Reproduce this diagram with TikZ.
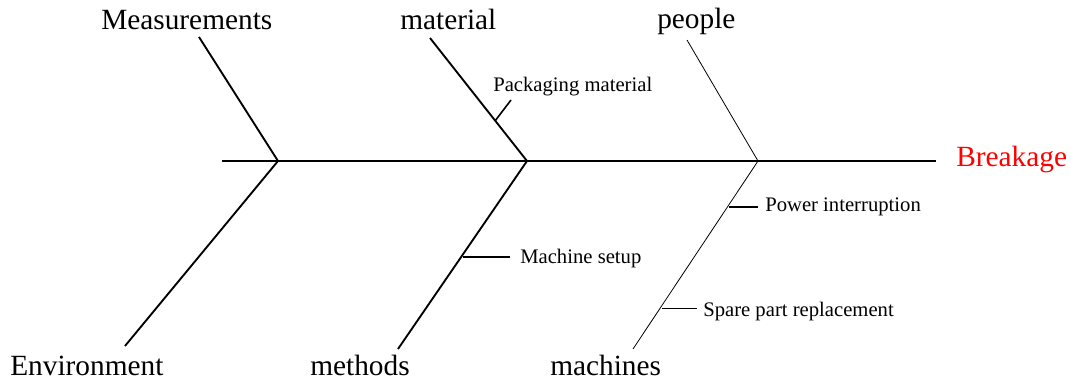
\documentclass[tikz,border=0pt]{standalone}
\usepackage{fontspec}
\setmainfont{Liberation Serif}
\usetikzlibrary{positioning}

\begin{document}
\begin{tikzpicture}[x=0.75pt, y=-0.75pt,
    cause/.style={inner sep=0pt, anchor=base west, font=\fontsize{22}{26}\selectfont},
    detail/.style={inner sep=0pt, anchor=base west, font=\fontsize{15.5}{19}\selectfont},
    effect/.style={cause, text=red},
    bone/.style={line width=1.4pt},
    thinbone/.style={line width=0.6pt},
    twig/.style={line width=1.2pt}
  ]
    \useasboundingbox (0,0) rectangle (1071,381);

    % cause labels
    \node[cause] (meas) at (101,30) {Measurements};
    \node[cause] (mat) at (400,30) {material};
    \node[cause] (ppl) at (657,29) {people};
    \node[cause] (env) at (10,375) {Environment};
    \node[cause] (meth) at (310,375) {methods};
    \node[cause] (mach) at (550,375) {machines};
    \node[effect] (brk) at (956,167) {Breakage};

    % sub causes
    \node[detail] (pack) at (493,92) {Packaging material};
    \node[detail] (setup) at (520,263) {Machine setup};
    \node[detail] (power) at (765,212) {Power interruption};
    \node[detail] (spare) at (703,316) {Spare part replacement};

    % spine
    \coordinate (tail) at (222,161);
    \coordinate (j1) at (278,161);
    \coordinate (j2) at (527,161);
    \coordinate (j3) at (758,161);
    \coordinate (head) at (936,161);
    \draw[bone] (tail) -- (j1) -- (j2) -- (j3) -- (head);

    % bones
    \coordinate (measend) at (199,37);
    \coordinate (envend) at (125,346);
    \coordinate (matend) at (430,38);
    \coordinate (methend) at (398,349);
    \coordinate (pplend) at (687,40);
    \coordinate (machend) at (633,349);
    \draw[bone] (measend) -- (j1) -- (envend);
    \draw[bone] (matend) -- (j2) -- (methend);
    \draw[thinbone] (pplend) -- (j3) -- (machend);

    % twigs
    \coordinate (packa) at (495,121);
    \coordinate (packb) at (511,100);
    \coordinate (setupa) at (463,257);
    \coordinate (setupb) at (510,257);
    \coordinate (powera) at (729,207);
    \coordinate (powerb) at (758,207);
    \coordinate (sparea) at (662,308);
    \coordinate (spareb) at (697,308);
    \draw[twig] (packa) -- (packb);
    \draw[twig] (setupa) -- (setupb);
    \draw[twig] (powera) -- (powerb);
    \draw[thinbone] (sparea) -- (spareb);
\end{tikzpicture}
\end{document}
